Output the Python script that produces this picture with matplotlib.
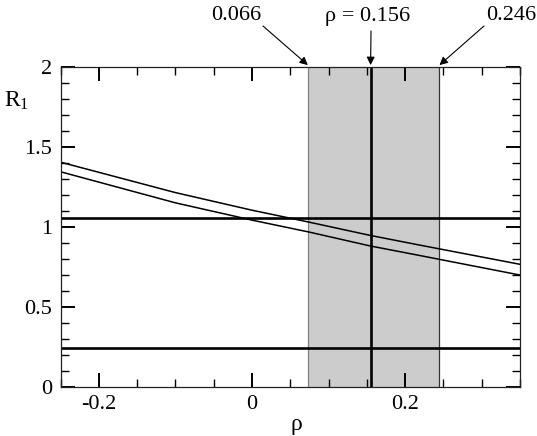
import matplotlib
matplotlib.use("Agg")
import matplotlib.pyplot as plt
from matplotlib.ticker import MultipleLocator, FormatStrFormatter

# values
rho_pts = [-0.25, -0.10, 0.0, 0.075, 0.155, 0.218, 0.35]
r1_upper = [1.405, 1.215, 1.105, 1.030, 0.947, 0.888, 0.767]
r1_lower = [1.345, 1.151, 1.043, 0.968, 0.881, 0.823, 0.700]
h_levels = [1.055, 0.243]
band_lo, band_hi = 0.073, 0.245
rho_c = 0.155
labels = ["0.066", "\u03c1 = 0.156", "0.246"]

plt.rcParams['font.family'] = ['Liberation Serif', 'DejaVu Serif']
plt.rcParams['axes.unicode_minus'] = False
plt.rcParams['mathtext.fontset'] = 'custom'
plt.rcParams['mathtext.rm'] = 'Liberation Serif'
plt.rcParams['mathtext.it'] = 'Liberation Serif:italic'

fig = plt.figure(figsize=(5.37, 4.36), dpi=100)
ax = fig.add_axes([0.113, 0.1124, 0.855, 0.7339])

# shaded band
ax.axvspan(band_lo, band_hi, facecolor='#cccccc', edgecolor='none', zorder=0.5)
ax.axvline(band_lo, color='#808080', lw=0.9, zorder=0.6)
ax.axvline(band_hi, color='#333333', lw=0.9, zorder=0.6)
ax.axvline(rho_c, color='k', lw=1.9)

for h in h_levels:
    ax.axhline(h, color='k', lw=1.9)

ax.plot(rho_pts, r1_upper, color='k', lw=1.1)
ax.plot(rho_pts, r1_lower, color='k', lw=1.1)

ax.set_xlim(-0.25, 0.35)
ax.set_ylim(0, 2)
ax.xaxis.set_major_locator(MultipleLocator(0.2))
ax.xaxis.set_minor_locator(MultipleLocator(0.05))
ax.yaxis.set_major_locator(MultipleLocator(0.5))
ax.yaxis.set_minor_locator(MultipleLocator(0.1))
ax.xaxis.set_major_formatter(FormatStrFormatter('%g'))
ax.yaxis.set_major_formatter(FormatStrFormatter('%g'))
ax.tick_params(which='both', direction='in', top=True, right=True, labelsize=16)
ax.tick_params(which='major', length=10, width=1.4)
ax.tick_params(which='minor', length=5.5, width=1.0)
ax.tick_params(axis='y', pad=6)
ax.tick_params(axis='x', pad=6)
for s in ax.spines.values():
    s.set_linewidth(0.9)
    s.set_color('#222222')

ax.set_xlabel('\u03c1', fontsize=17)
ax.xaxis.set_label_coords(0.514, -0.085)
ax.set_ylabel('R$_1$', fontsize=17, rotation=0)
ax.yaxis.set_label_coords(-0.095, 0.86)

# labels with arrows above the plot
tips = [band_lo, rho_c, band_hi]
text_px = [(236, 420), (368, 420), (511, 420)]
tail_px = [(263, 410), (371, 405), (484, 410)]
for lab, tip, tp, tl in zip(labels, tips, text_px, tail_px):
    fig.text(tp[0] / 537, tp[1] / 436, lab, fontsize=16, ha='center', va='center')
    ax.annotate('', xy=(tip, 1.006), xycoords=('data', 'axes fraction'),
                xytext=(tl[0] / 537, tl[1] / 436), textcoords='figure fraction',
                arrowprops=dict(arrowstyle='-|>', color='k', lw=0.8,
                                mutation_scale=12, shrinkA=0, shrinkB=0),
                annotation_clip=False)

fig.savefig('out.png', dpi=100)
